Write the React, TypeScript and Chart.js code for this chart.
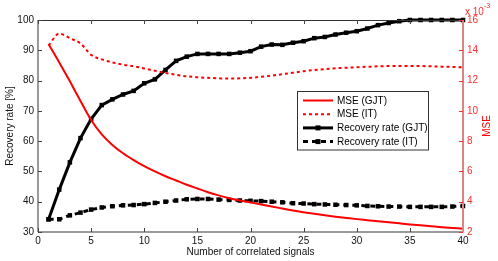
import React, { useEffect, useRef } from 'react';
import { Chart, registerables } from 'chart.js';

Chart.register(...registerables);

const signals = [1, 2, 3, 4, 5, 6, 7, 8, 9, 10, 11, 12, 13, 14, 15, 16, 17, 18, 19, 20, 21, 22, 23, 24, 25, 26, 27, 28, 29, 30, 31, 32, 33, 34, 35, 36, 37, 38, 39, 40];

const recoveryGJT = [34.2, 44, 53, 61, 67.3, 71.9, 73.8, 75.4, 76.6, 79.1, 80.4, 83.5, 86.5, 87.9, 88.8, 88.8, 88.8, 88.8, 89.2, 89.7, 91.2, 91.9, 91.8, 92.5, 93, 94, 94.4, 95.2, 95.8, 96.3, 97.2, 98.3, 99, 99.6, 100, 100, 100, 100, 100, 100];

const recoveryIT = [34.2, 34.2, 35.5, 36.4, 37.4, 38.1, 38.5, 38.8, 38.9, 39.2, 39.6, 40.0, 40.4, 40.8, 40.9, 40.9, 40.7, 40.6, 40.4, 40.3, 40.2, 40.0, 39.8, 39.5, 39.4, 39.2, 39.1, 39.0, 38.9, 38.8, 38.6, 38.5, 38.4, 38.4, 38.3, 38.3, 38.3, 38.3, 38.4, 38.6];

// MSE values in units of 10^-3
const mseGJT = [14.4, 13.2, 11.95, 10.65, 9.4, 8.45, 7.75, 7.2, 6.75, 6.35, 6.0, 5.68, 5.4, 5.12, 4.87, 4.63, 4.42, 4.23, 4.08, 3.95, 3.82, 3.68, 3.55, 3.42, 3.3, 3.2, 3.1, 3.01, 2.93, 2.85, 2.78, 2.71, 2.64, 2.57, 2.5, 2.44, 2.38, 2.32, 2.27, 2.22];

const mseIT = [14.33, 15.1, 14.8, 14.45, 13.7, 13.4, 13.2, 13.05, 12.95, 12.8, 12.65, 12.5, 12.38, 12.28, 12.22, 12.18, 12.15, 12.13, 12.15, 12.18, 12.25, 12.33, 12.42, 12.52, 12.62, 12.7, 12.76, 12.81, 12.85, 12.88, 12.91, 12.94, 12.96, 12.97, 12.97, 12.96, 12.94, 12.92, 12.9, 12.87];

const legendLabels = ['MSE (GJT)', 'MSE (IT)', 'Recovery rate (GJT)', 'Recovery rate (IT)'];
const xTitle = 'Number of correlated signals';
const yLeftTitle = 'Recovery rate [%]';
const yRightTitle = 'MSE';

const FONT = '"Liberation Sans", Arial, Helvetica, sans-serif';
const RED = '#ff0000';
const TICK_RED = 'rgb(255,45,45)';

const framePlugin = {
  id: 'matlabFrame',
  afterDraw(chart: any) {
    const ctx = chart.ctx;
    const { left, right, top, bottom } = chart.chartArea;
    const xs = chart.scales.x;
    const yl = chart.scales.y;
    const yr = chart.scales.y1;
    ctx.save();
    // top border
    ctx.strokeStyle = '#333';
    ctx.lineWidth = 1;
    ctx.beginPath();
    ctx.moveTo(left, top + 0.5);
    ctx.lineTo(right, top + 0.5);
    ctx.stroke();
    // bottom & left axes
    ctx.strokeStyle = '#7a7a7a';
    ctx.lineWidth = 1.5;
    ctx.beginPath();
    ctx.moveTo(left, bottom);
    ctx.lineTo(right, bottom);
    ctx.moveTo(left, top);
    ctx.lineTo(left, bottom);
    ctx.stroke();
    // x ticks (bottom and top, inward)
    ctx.strokeStyle = '#444';
    ctx.lineWidth = 1;
    ctx.beginPath();
    xs.ticks.forEach((t: any) => {
      const px = Math.round(xs.getPixelForValue(t.value)) + 0.5;
      ctx.moveTo(px, bottom);
      ctx.lineTo(px, bottom - 4);
      ctx.moveTo(px, top);
      ctx.lineTo(px, top + 4);
    });
    yl.ticks.forEach((t: any) => {
      const py = Math.round(yl.getPixelForValue(t.value)) + 0.5;
      ctx.moveTo(left, py);
      ctx.lineTo(left + 4, py);
    });
    ctx.stroke();
    // right axis (red)
    ctx.strokeStyle = 'rgb(222,130,130)';
    ctx.lineWidth = 2;
    ctx.beginPath();
    ctx.moveTo(right, top);
    ctx.lineTo(right, bottom);
    ctx.stroke();
    ctx.strokeStyle = TICK_RED;
    ctx.lineWidth = 1;
    ctx.beginPath();
    yr.ticks.forEach((t: any) => {
      const py = Math.round(yr.getPixelForValue(t.value)) + 0.5;
      ctx.moveTo(right, py);
      ctx.lineTo(right - 4, py);
    });
    ctx.stroke();
    // exponent label
    ctx.fillStyle = TICK_RED;
    ctx.font = `10px ${FONT}`;
    ctx.textAlign = 'left';
    ctx.textBaseline = 'middle';
    ctx.fillText('x 10', right + 2, 12);
    ctx.font = `7px ${FONT}`;
    ctx.fillText('-3', right + 21, 6);
    // right title
    ctx.save();
    ctx.translate(487, (top + bottom) / 2);
    ctx.rotate(-Math.PI / 2);
    ctx.font = `10px ${FONT}`;
    ctx.fillStyle = RED;
    ctx.textAlign = 'center';
    ctx.textBaseline = 'middle';
    ctx.fillText(yRightTitle, 0, 0);
    ctx.restore();

    // legend
    const bx = 297.5, by = 91.5, bw = 131, bh = 58.5;
    ctx.fillStyle = '#fff';
    ctx.fillRect(bx, by, bw, bh);
    ctx.strokeStyle = '#333';
    ctx.lineWidth = 1;
    ctx.strokeRect(bx, by, bw, bh);
    const styles = [
      { color: RED, width: 2, dash: [] as number[], marker: false },
      { color: RED, width: 2, dash: [3, 3], marker: false },
      { color: '#000', width: 3, dash: [] as number[], marker: true },
      { color: '#000', width: 3, dash: [5, 4], marker: true },
    ];
    legendLabels.forEach((lab, i) => {
      const y = 100.5 + i * 13.7;
      const s = styles[i];
      ctx.strokeStyle = s.color;
      ctx.lineWidth = s.width;
      ctx.setLineDash(s.dash);
      ctx.beginPath();
      ctx.moveTo(303, y);
      ctx.lineTo(333, y);
      ctx.stroke();
      ctx.setLineDash([]);
      if (s.marker) {
        ctx.fillStyle = '#000';
        ctx.fillRect(318 - 2.5, y - 2.5, 5, 5);
      }
      ctx.fillStyle = '#000';
      ctx.font = `10px ${FONT}`;
      ctx.textAlign = 'left';
      ctx.textBaseline = 'middle';
      ctx.fillText(lab, 337, y + 0.5);
    });
    ctx.restore();
  },
};

export default function App() {
  const ref = useRef<HTMLCanvasElement | null>(null);
  useEffect(() => {
    if (!ref.current) return;
    const chart = new Chart(ref.current, {
      type: 'line',
      data: {
        labels: signals,
        datasets: [
          {
            label: legendLabels[0],
            data: signals.map((x, i) => ({ x, y: mseGJT[i] })),
            yAxisID: 'y1',
            borderColor: RED,
            borderWidth: 2,
            pointRadius: 0,
            cubicInterpolationMode: 'monotone',
          },
          {
            label: legendLabels[1],
            data: signals.map((x, i) => ({ x, y: mseIT[i] })),
            yAxisID: 'y1',
            borderColor: RED,
            borderWidth: 2,
            borderDash: [3, 3],
            pointRadius: 0,
            cubicInterpolationMode: 'monotone',
          },
          {
            label: legendLabels[2],
            data: signals.map((x, i) => ({ x, y: recoveryGJT[i] })),
            yAxisID: 'y',
            borderColor: '#000',
            backgroundColor: '#000',
            borderWidth: 3,
            pointStyle: 'rect',
            pointRadius: 3.2,
            pointBorderWidth: 0,
          },
          {
            label: legendLabels[3],
            data: signals.map((x, i) => ({ x, y: recoveryIT[i] })),
            yAxisID: 'y',
            borderColor: '#000',
            backgroundColor: '#000',
            borderWidth: 3,
            borderDash: [5, 4],
            pointStyle: 'rect',
            pointRadius: 3.2,
            pointBorderWidth: 0,
          },
        ],
      },
      options: {
        animation: false,
        responsive: false,
        devicePixelRatio: 1,
        layout: { padding: { top: 20, left: 0, right: 0, bottom: 0 } },
        plugins: { legend: { display: false }, tooltip: { enabled: false } },
        elements: { line: { fill: false } },
        datasets: { line: { clip: 6 } } as any,
        scales: {
          x: {
            type: 'linear',
            min: 0,
            max: 40,
            grid: { display: false, drawTicks: false },
            border: { display: false },
            ticks: { stepSize: 5, padding: 3, color: '#111', font: { family: FONT, size: 10 }, maxRotation: 0 },
            title: { display: true, text: xTitle, color: '#111', font: { family: FONT, size: 10 }, padding: { top: 0, bottom: 2.5 } },
            afterFit: (s: any) => { s.height = 29; },
          },
          y: {
            type: 'linear',
            position: 'left',
            min: 30,
            max: 100,
            grid: { display: false, drawTicks: false },
            border: { display: false },
            ticks: { stepSize: 10, padding: 4, color: '#111', font: { family: FONT, size: 10 } },
            title: { display: true, text: yLeftTitle, color: '#111', font: { family: FONT, size: 10 }, padding: { top: 4, bottom: 0 } },
            afterFit: (s: any) => { s.width = 38; },
          },
          y1: {
            type: 'linear',
            position: 'right',
            min: 2,
            max: 16,
            grid: { display: false, drawTicks: false },
            border: { display: false },
            ticks: { stepSize: 2, padding: 4, color: TICK_RED, font: { family: FONT, size: 10 } },
            afterFit: (s: any) => { s.width = 35; },
          },
        },
      } as any,
      plugins: [framePlugin],
    });
    return () => chart.destroy();
  }, []);
  return (
    <div style={{ position: 'absolute', left: 0, top: 0, width: 498, height: 261, background: '#fff' }}>
      <canvas ref={ref} width={498} height={261} style={{ display: 'block', width: 498, height: 261 }} />
    </div>
  );
}
